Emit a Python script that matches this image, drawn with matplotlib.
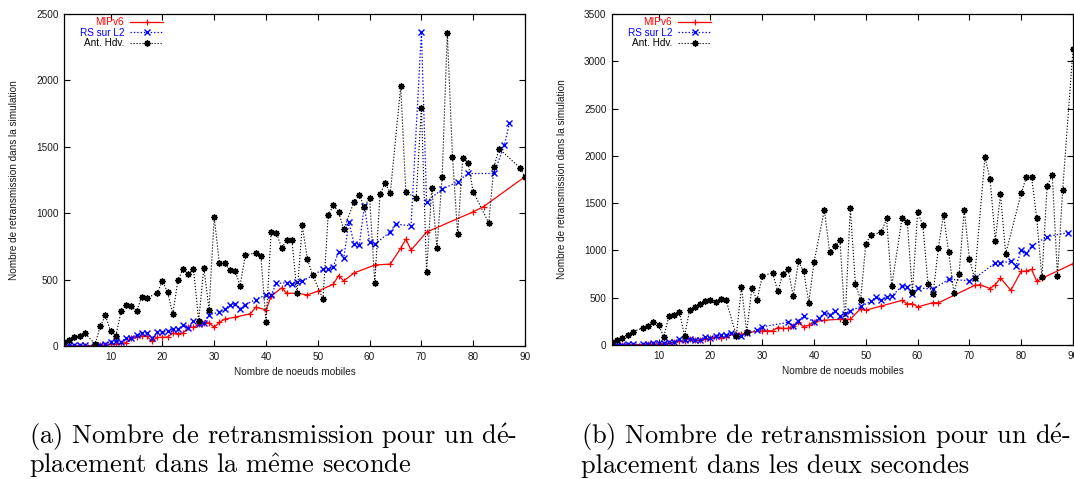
import matplotlib
matplotlib.use("Agg")
import matplotlib.pyplot as plt

plt.rcParams["font.family"] = ["Liberation Sans", "DejaVu Sans"]
plt.rcParams["mathtext.fontset"] = "cm"

# ---------------------------------------------------------------------------
# (a) handover within the same second
mip_a_x = [1, 2, 3, 4, 5, 7, 8, 9, 10, 11, 12, 13, 14, 15, 16, 17, 18, 19, 20,
           21, 22, 23, 24, 25, 26, 27, 28, 29, 30, 31, 32, 34, 37, 38, 40, 41,
           43, 44, 46, 48, 50, 53, 54, 55, 57, 61, 64, 66, 67, 68, 71, 80, 82, 90]
mip_a_y = [2, 2, 2, 2, 2, 3, 5, 8, 15, 15, 22, 24, 60, 70, 75, 72, 38, 65, 65,
           68, 98, 93, 98, 140, 140, 163, 175, 175, 140, 178, 202, 217, 243, 292,
           272, 375, 438, 397, 397, 385, 413, 465, 530, 490, 550, 610, 617, 735,
           805, 722, 858, 1010, 1050, 1275]

rs_a_x = [1, 2, 3, 4, 5, 7, 8, 9, 10, 11, 12, 13, 14, 15, 16, 17, 18, 19, 20,
          21, 22, 23, 24, 25, 26, 27, 28, 29, 31, 32, 33, 34, 35, 36, 38, 40, 41,
          42, 44, 45, 46, 47, 51, 52, 53, 54, 55, 56, 57, 58, 59, 60, 61, 64, 65,
          68, 70, 71, 74, 77, 79, 84, 86, 87]
rs_a_y = [5, 5, 5, 5, 5, 5, 8, 17, 30, 38, 30, 63, 63, 80, 98, 98, 60, 105, 105,
          110, 128, 125, 160, 135, 192, 165, 172, 235, 255, 280, 305, 320, 282,
          312, 350, 385, 382, 472, 475, 470, 485, 487, 577, 577, 597, 710, 660,
          935, 768, 760, 1057, 780, 768, 860, 918, 905, 2364, 1086, 1181, 1236,
          1299, 1299, 1510, 1677]

ant_a_x = [1, 2, 3, 4, 5, 7, 8, 9, 10, 11, 12, 13, 14, 15, 16, 17, 19, 20, 21,
           22, 23, 24, 25, 26, 27, 28, 29, 30, 31, 32, 33, 34, 35, 36, 38, 39, 40,
           41, 42, 43, 44, 45, 46, 47, 48, 49, 51, 52, 53, 54, 55, 57, 58, 59, 60,
           61, 62, 63, 64, 66, 67, 69, 70, 71, 72, 73, 74, 75, 76, 77, 78, 79, 80,
           83, 84, 85, 89, 90]
ant_a_y = [27, 47, 65, 72, 97, 15, 147, 230, 110, 72, 260, 312, 300, 260, 370,
           360, 400, 488, 405, 242, 496, 580, 542, 580, 190, 590, 273, 970, 622,
           622, 572, 568, 454, 685, 700, 680, 180, 862, 852, 740, 797, 797, 396,
           908, 652, 535, 352, 986, 1060, 1010, 880, 1086, 1136, 1048, 1118, 472,
           1141, 1228, 1153, 1955, 1156, 1118, 1795, 555, 1192, 735, 1269, 2356,
           1424, 840, 1419, 1381, 1161, 928, 1349, 1486, 1343, 1273]

# (b) handover within two seconds
mip_b_x = [1, 2, 3, 4, 5, 7, 8, 9, 10, 11, 12, 13, 14, 15, 16, 17, 18, 19, 20,
           21, 22, 23, 25, 26, 27, 30, 31, 32, 33, 34, 35, 36, 37, 38, 39, 40, 42,
           45, 47, 49, 50, 53, 57, 58, 59, 60, 63, 64, 71, 72, 74, 75, 76, 78, 80,
           81, 82, 83, 84, 90]
mip_b_y = [3, 3, 3, 3, 3, 5, 8, 10, 12, 15, 22, 28, 38, 45, 65, 55, 50, 62, 70,
           85, 78, 88, 120, 112, 130, 150, 150, 150, 185, 175, 175, 200, 238, 193,
           210, 245, 262, 272, 272, 385, 368, 412, 472, 432, 438, 403, 448, 445,
           630, 638, 597, 638, 708, 578, 780, 780, 800, 672, 705, 860]

rs_b_x = [1, 2, 3, 4, 5, 7, 8, 9, 10, 11, 12, 13, 14, 15, 16, 17, 18, 19, 20,
          21, 22, 23, 24, 25, 26, 27, 29, 30, 35, 36, 37, 38, 40, 41, 42, 43, 44,
          45, 46, 47, 49, 51, 52, 53, 54, 55, 57, 58, 59, 60, 63, 66, 70, 71, 75,
          76, 78, 79, 80, 81, 82, 85, 89]
rs_b_y = [5, 5, 5, 8, 8, 10, 15, 20, 25, 22, 30, 35, 60, 50, 60, 50, 55, 85, 75,
          90, 105, 105, 125, 110, 100, 125, 158, 192, 240, 200, 258, 305, 245,
          290, 338, 320, 358, 308, 332, 358, 408, 462, 508, 472, 508, 515, 625,
          612, 535, 605, 590, 695, 680, 705, 868, 868, 885, 840, 1000, 970, 1048,
          1145, 1188]

ant_b_x = [1, 2, 3, 4, 5, 7, 8, 9, 10, 11, 12, 13, 14, 15, 16, 17, 18, 19, 20,
           21, 22, 23, 25, 26, 27, 28, 29, 30, 32, 33, 34, 35, 36, 37, 38, 39, 40,
           42, 43, 44, 45, 46, 47, 48, 49, 50, 51, 53, 54, 55, 57, 58, 59, 60, 61,
           62, 63, 64, 65, 66, 67, 68, 69, 70, 71, 73, 74, 75, 76, 77, 80, 81, 82,
           83, 84, 85, 86, 87, 88, 90]
ant_b_y = [35, 53, 70, 105, 140, 182, 200, 245, 210, 88, 308, 322, 350, 98, 368,
           403, 438, 462, 480, 455, 490, 480, 98, 613, 140, 603, 473, 729, 764,
           568, 753, 806, 515, 883, 778, 449, 876, 1430, 988, 1044, 1114, 245,
           1447, 641, 480, 1069, 1167, 1191, 1338, 624, 1342, 1303, 561, 1402,
           1268, 650, 543, 1023, 1377, 981, 554, 750, 1430, 911, 705, 1987, 1752,
           1104, 1594, 964, 1605, 1777, 1777, 1338, 715, 1682, 1798, 731, 1636,
           3126]

series_labels = ["MIPv6", "RS sur L2", "Ant. Hdv."]
x_ticks = [10, 20, 30, 40, 50, 60, 70, 80, 90]
y_ticks_a = [0, 500, 1000, 1500, 2000, 2500]
y_ticks_b = [0, 500, 1000, 1500, 2000, 2500, 3000, 3500]
x_title = "Nombre de noeuds mobiles"
y_title = "Nombre de retransmission dans la simulation"
# accented letters are typeset with mathtext accents so that the whole
# caption stays in Computer Modern
caption_a = [r"(a) Nombre de retransmission pour un d$\acute{\mathrm{e}}$-",
             r"placement dans la m$\hat{\mathrm{e}}$me seconde"]
caption_b = [r"(b) Nombre de retransmission pour un d$\acute{\mathrm{e}}$-",
             "placement dans les deux secondes"]

# ---------------------------------------------------------------------------
W, H = 1074, 479
fig = plt.figure(figsize=(W / 100, H / 100), dpi=100)


def axes_px(left, right, top, bottom):
    return fig.add_axes([left / W, 1 - bottom / H, (right - left) / W,
                         (bottom - top) / H])


ax_a = axes_px(64, 525, 14, 346)
ax_b = axes_px(612, 1073, 14, 345)

TICK_FS = 7.2
dotted = (0, (1.1, 1.6))
styles = [
    dict(color="#ff0000", lw=0.9, ls="-", marker="+", ms=5, mew=0.9),
    dict(color="#0000ff", lw=0.9, ls=dotted, marker="x", ms=4.2, mew=1.0),
    dict(color="black", lw=0.8, ls=dotted, marker=(8, 2, 0), ms=4.6, mew=1.0),
]


def draw(ax, data, yticks):
    for (xs, ys), st, lab in zip(data, styles, series_labels):
        ax.plot(xs, ys, label=lab, **st)
    ax.set_xlim(1, 90)
    ax.set_ylim(yticks[0], yticks[-1])
    ax.set_xticks(x_ticks)
    ax.set_yticks(yticks)
    ax.tick_params(direction="in", length=4.5, width=0.8, top=True, right=True,
                   labelsize=TICK_FS, labelcolor="#1a1a1a", pad=4)
    for sp in ax.spines.values():
        sp.set_linewidth(0.9)
    ax.set_xlabel(x_title, fontsize=TICK_FS, color="#1a1a1a")
    ax.set_ylabel(y_title, fontsize=TICK_FS, color="#1a1a1a")
    ax.xaxis.set_label_coords(0.5, -0.064)
    ax.yaxis.set_label_coords(-0.097, 0.5)
    leg = ax.legend(loc="upper right", bbox_to_anchor=((163 - 64) / 461, 0.99),
                    frameon=False, markerfirst=False, labelcolor="linecolor",
                    fontsize=TICK_FS, handlelength=3.3, handletextpad=0.6,
                    labelspacing=0.05, borderpad=0, borderaxespad=0)
    return leg


draw(ax_a, [(mip_a_x, mip_a_y), (rs_a_x, rs_a_y), (ant_a_x, ant_a_y)], y_ticks_a)
draw(ax_b, [(mip_b_x, mip_b_y), (rs_b_x, rs_b_y), (ant_b_x, ant_b_y)], y_ticks_b)

cap_font = dict(family="cmr10", fontsize=19, va="baseline",
                ha="left", color="black")
for x0, lines in ((29, caption_a), (581, caption_b)):
    for y0, line in zip((444, 473), lines):
        fig.text(x0 / W, 1 - y0 / H, line, **cap_font)

fig.savefig("out.png", dpi=100)
